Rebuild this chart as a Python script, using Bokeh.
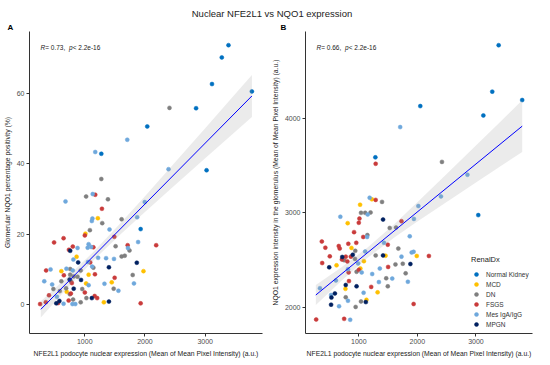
from bokeh.plotting import figure
from bokeh.models import ColumnDataSource, Range1d, FixedTicker, Label, Legend, LegendItem, Div
from bokeh.layouts import column, row
from bokeh.embed import file_html
from bokeh.resources import INLINE

# ---------------- data ----------------
groups = ["NK", "MCD", "DN", "FSGS", "IgA", "MPGN"]
group_labels = ["Normal Kidney", "MCD", "DN", "FSGS", "Mes IgA/IgG", "MPGN"]
group_colors = ["#0070C0", "#FFC000", "#7F7F7F", "#C93B3B", "#6FA8DC", "#002060"]

# Panel A: NFE2L1 (x) vs glomerular NQO1 % positivity (y)
a_x = [3387, 3276, 3113, 3776, 2407, 2849, 2038, 1706, 1174, 1275, 2391, 3023, 1275, 680, 1132,
       1174, 1022, 1385, 1285, 1996, 1127, 1117, 1217, 1612, 1290, 1870, 648, 490, 1085, 1411,
       1011, 1001, 1928, 2186, 1886, 1491, 1512, 1712, 1717, 1743, 1064, 1048, 1106, 1143, 880,
       801, 737, 758, 864, 1222, 1354, 1485, 1612, 1664, 811, 1053, 1090, 890, 1864, 1122,
       1401, 1143, 358, 432, 695, 611, 758, 801, 932, 1975, 653, 758, 816, 880, 1064,
       1169, 1496, 1796, 327, 748, 938, 769, 785, 611, 458, 1022, 1064, 1327, 1448, 1817,
       479, 816, 958, 690, 700, 585, 769, 1001, 1559, 1480, 406, 537, 753, 806, 1027,
       1117, 1164, 1206, 732, 579, 527, 558, 648, 795, 843, 932, 1317, 1401, 1928, 258, 353]
a_y = [73.9, 70.4, 62.8, 60.7, 56.0, 55.9, 50.7, 46.9, 43.4, 42.9, 38.5, 38.2, 35.7, 29.3, 31.4,
       31.2, 30.7, 29.9, 27.2, 29.1, 24.4, 23.7, 24.5, 24.2, 23.1, 24.8, 18.8, 17.6, 21.1, 21.3,
       20.1, 19.6, 21.4, 16.8, 17.7, 19.2, 16.5, 16.8, 16.0, 15.3, 17.1, 16.1, 16.3, 16.2, 16.0,
       16.4, 15.5, 15.2, 13.5, 13.2, 13.1, 12.9, 13.6, 13.8, 12.7, 12.0, 11.9, 11.9, 11.8, 10.7,
       10.5, 10.4, 9.6, 9.9, 10.1, 9.4, 10.0, 9.6, 9.6, 9.4, 8.2, 8.4, 7.9, 7.8, 8.4,
       8.5, 7.5, 8.3, 6.5, 7.0, 6.9, 6.5, 6.0, 6.5, 5.6, 5.9, 5.4, 5.8, 6.2, 5.9,
       4.3, 4.4, 4.3, 4.5, 3.5, 3.7, 3.0, 3.3, 3.8, 4.4, 2.5, 2.1, 2.8, 1.3, 1.7,
       1.7, 2.3, 1.7, 1.0, 0.9, 0.2, 0.3, 0.1, 0.0, 0.0, 0.5, 0.5, 0.7, 0.2, 0.0, 0.55]
a_grp = ["NK", "NK", "NK", "NK", "DN", "NK", "NK", "IgA", "IgA", "NK", "IgA", "NK", "DN", "IgA", "IgA",
         "FSGS", "DN", "DN", "FSGS", "IgA", "IgA", "IgA", "MCD", "DN", "DN", "IgA", "FSGS", "FSGS", "DN", "IgA",
         "MCD", "FSGS", "NK", "FSGS", "IgA", "FSGS", "DN", "FSGS", "IgA", "DN", "IgA", "IgA", "IgA", "FSGS", "IgA",
         "FSGS", "FSGS", "MPGN", "MCD", "IgA", "IgA", "IgA", "DN", "DN", "IgA", "IgA", "FSGS", "MPGN", "MPGN", "IgA",
         "MPGN", "DN", "FSGS", "IgA", "IgA", "MCD", "DN", "IgA", "DN", "MCD", "FSGS", "DN", "DN", "DN", "MCD",
         "FSGS", "FSGS", "DN", "IgA", "MPGN", "MPGN", "DN", "FSGS", "DN", "IgA", "MCD", "IgA", "IgA", "MCD", "IgA",
         "DN", "MPGN", "DN", "DN", "MCD", "DN", "FSGS", "FSGS", "IgA", "DN", "FSGS", "IgA", "DN", "DN", "DN",
         "MPGN", "FSGS", "FSGS", "FSGS", "MPGN", "MPGN", "FSGS", "IgA", "IgA", "IgA", "DN", "MCD", "MPGN", "FSGS", "FSGS", "FSGS"]

# Panel A regression line and confidence band
a_line_x = [270, 3776]
a_line_y = [-1.5, 59.4]
a_band_x = [270, 700, 1150, 1600, 2000, 2500, 3000, 3400, 3776]
a_band_lo = [-3.8, 4.35, 12.6, 20.0, 26.3, 34.0, 41.6, 47.7, 53.4]
a_band_hi = [0.8, 7.6, 15.0, 23.2, 30.8, 40.5, 50.2, 58.0, 65.4]

# Panel B: NFE2L1 (x) vs NQO1 intensity (y)
b_x = [3388, 3279, 3790, 2050, 3127, 1707, 1283, 1288, 2420, 2855, 1185, 1223, 1288, 1397, 1022,
       2403, 2017, 1038, 1109, 1152, 1201, 685, 1414, 1011, 1000, 810, 1729, 1941, 3040, 1528,
       1636, 919, 1147, 1076, 1142, 1870, 369, 658, 429, 674, 821, 957, 875, 940, 1109,
       1430, 1495, 1675, 1936, 1903, 505, 717, 777, 897, 864, 1288, 1414, 1457, 1729, 1990,
       2197, 375, 495, 620, 712, 750, 805, 935, 989, 1087, 1027, 1000, 815, 826, 962,
       1049, 1229, 1359, 1501, 1626, 1751, 1881, 1800, 1571, 1468, 1343, 1838, 832, 962, 777,
       772, 1212, 1495, 337, 609, 1321, 1082, 592, 527, 533, 777, 815, 1131, 1120, 1038,
       527, 663, 946, 1936, 272, 750, 853]
b_y = [4771, 4280, 4191, 4127, 4028, 3905, 3585, 3517, 3537, 3401, 3158, 3141, 3135, 3114, 3084,
       3172, 3070, 2998, 2998, 2981, 3002, 2957, 2927, 2937, 2893, 2889, 2910, 2934, 2974, 2838,
       2842, 2794, 2763, 2743, 2743, 2750, 2695, 2647, 2630, 2620, 2671, 2681, 2627, 2596, 2589,
       2681, 2661, 2620, 2586, 2579, 2538, 2531, 2535, 2555, 2535, 2548, 2548, 2545, 2535, 2542,
       2542, 2467, 2422, 2443, 2504, 2497, 2484, 2511, 2463, 2487, 2409, 2395, 2402, 2368, 2375,
       2368, 2351, 2409, 2426, 2453, 2460, 2457, 2358, 2303, 2306, 2266, 2269, 2276, 2221, 2235,
       2194, 2215, 2221, 2201, 2283, 2157, 2153, 2146, 2129, 2102, 2105, 2068, 2078, 2054, 2061,
       2027, 2010, 2003, 2034, 1870, 1877, 1867]
b_grp = ["NK", "NK", "NK", "NK", "NK", "IgA", "NK", "FSGS", "DN", "IgA", "IgA", "MCD", "FSGS", "DN", "MCD",
         "IgA", "IgA", "DN", "DN", "IgA", "DN", "IgA", "MPGN", "FSGS", "FSGS", "MCD", "FSGS", "IgA", "NK", "DN",
         "DN", "FSGS", "DN", "FSGS", "IgA", "IgA", "FSGS", "FSGS", "FSGS", "FSGS", "FSGS", "FSGS", "MCD", "DN", "IgA",
         "IgA", "FSGS", "DN", "IgA", "IgA", "FSGS", "MPGN", "FSGS", "MPGN", "FSGS", "DN", "MPGN", "MCD", "IgA", "MCD",
         "FSGS", "FSGS", "MPGN", "MCD", "FSGS", "DN", "FSGS", "DN", "IgA", "MCD", "MCD", "FSGS", "IgA", "FSGS", "DN",
         "IgA", "IgA", "IgA", "FSGS", "DN", "DN", "MPGN", "DN", "IgA", "DN", "IgA", "IgA", "FSGS", "MPGN", "MPGN",
         "MCD", "FSGS", "DN", "IgA", "IgA", "MCD", "IgA", "MPGN", "IgA", "MPGN", "DN", "IgA", "MCD", "MPGN", "DN",
         "MPGN", "IgA", "DN", "FSGS", "FSGS", "FSGS", "IgA"]

b_line_x = [266, 3790]
b_line_y = [2129, 3915]
b_band_x = [266, 700, 1150, 1600, 2000, 2500, 3000, 3400, 3790]
b_band_lo = [2024, 2278, 2522, 2734, 2906, 3114, 3320, 3483, 3642]
b_band_hi = [2234, 2420, 2632, 2876, 3110, 3408, 3710, 3951, 4188]

x_ticks = [1000, 2000, 3000]
a_y_ticks = [0, 20, 40, 60]
b_y_ticks = [2000, 3000, 4000]

title_text = "Nuclear NFE2L1 vs NQO1 expression"
x_label = "NFE2L1 podocyte nuclear expression (Mean of Mean Pixel Intensity) (a.u.)"
a_y_label = "Glomerular NQO1 percentage positivity (%)"
b_y_label = "NQO1 expression intensity in the glomerulus (Mean of Mean Pixel Intensity) (a.u.)"
a_stats = ("0.73", "2.2e-16")
b_stats = ("0.66", "2.2e-16")

FONT = "Liberation Sans"
FIG_H = 339


def make_panel(width, xr, yr, yticks, ylabel, mbl, mbr, letter, letter_offset):
    p = figure(width=width, height=FIG_H, x_range=Range1d(*xr), y_range=Range1d(*yr),
               output_backend="svg", toolbar_location=None,
               min_border_left=mbl, min_border_right=mbr, min_border_top=0, min_border_bottom=22)
    p.outline_line_color = None
    p.grid.visible = False
    p.title.text = letter
    p.title.align = "left"
    p.title.offset = letter_offset
    p.title.text_font = FONT
    p.title.text_font_size = "8px"
    p.title.text_font_style = "bold"
    p.title.text_color = "#000000"
    p.title.standoff = 0
    p.xaxis.ticker = FixedTicker(ticks=x_ticks)
    p.yaxis.ticker = FixedTicker(ticks=yticks)
    p.xaxis.axis_label = x_label
    p.yaxis.axis_label = ylabel
    for ax in (p.xaxis, p.yaxis):
        ax.axis_line_color = "#333333"
        ax.major_tick_line_color = "#333333"
        ax.major_tick_out = 3
        ax.major_tick_in = 0
        ax.minor_tick_line_color = None
        ax.major_label_text_font = FONT
        ax.major_label_text_font_size = "7px"
        ax.major_label_text_color = "#4D4D4D"
        ax.major_label_standoff = 2
        ax.axis_label_text_font = FONT
        ax.axis_label_text_font_size = "6.8px"
        ax.axis_label_text_font_style = "normal"
        ax.axis_label_text_color = "#222222"
        ax.axis_label_standoff = 3
    return p


def add_points(p, xs, ys, gs):
    rends = {}
    for g, c in zip(groups, group_colors):
        idx = [i for i, gg in enumerate(gs) if gg == g]
        src = ColumnDataSource(dict(x=[xs[i] for i in idx], y=[ys[i] for i in idx]))
        rends[g] = p.scatter("x", "y", source=src, size=4, fill_color=c, line_color=c, line_width=0.5)
    return rends


def add_fit(p, lx, ly, bx, blo, bhi):
    p.varea(x=bx, y1=blo, y2=bhi, fill_color="#999999", fill_alpha=0.2)
    p.line(x=lx, y=ly, line_color="#0000FF", line_width=1)


def add_stats(p, stats, y_from_bottom):
    r, pv = stats
    pieces = [("R", "italic", 11), (" = %s, " % r, "normal", 15.7), ("p", "italic", 39.6),
              (" < %s" % pv, "normal", 43.2)]
    for txt, style, x in pieces:
        p.add_layout(Label(x=x, y=y_from_bottom, x_units="screen", y_units="screen", text=txt,
                           text_font=FONT, text_font_size="6.5px", text_font_style=style,
                           text_color="#222222", text_baseline="middle"))


pA = make_panel(268, (82, 3952), (-8.4, 77.8), a_y_ticks, a_y_label, 23, 6, "A", -22)
add_points(pA, a_x, a_y, a_grp)
add_fit(pA, a_line_x, a_line_y, a_band_x, a_band_lo, a_band_hi)

pB = make_panel(266, (90, 3966), (1722, 4916), b_y_ticks, b_y_label, 32, 2, "B", -25)
rB = add_points(pB, b_x, b_y, b_grp)
add_fit(pB, b_line_x, b_line_y, b_band_x, b_band_lo, b_band_hi)

legend = Legend(items=[LegendItem(label=lab, renderers=[rB[g]]) for g, lab in zip(groups, group_labels)],
                location=(166, 4), title="RenalDx")
legend.title_text_font = FONT
legend.title_text_font_size = "7.5px"
legend.title_text_font_style = "normal"
legend.title_text_color = "#222222"
legend.label_text_font = FONT
legend.label_text_font_size = "6.5px"
legend.label_text_color = "#333333"
legend.label_height = 10
legend.glyph_height = 10
legend.glyph_width = 10
legend.spacing = 0
legend.padding = 2
legend.margin = 0
legend.border_line_color = None
legend.background_fill_alpha = 0
pB.add_layout(legend)

# stats labels placed relative to the frame (screen units measured from frame bottom)
frame_h_est = 306
add_stats(pA, a_stats, frame_h_est - 20)
add_stats(pB, b_stats, frame_h_est - 20)

title = Div(text='<div style="width:534px;text-align:center;font-family:\'Liberation Sans\',Arial;'
                 'font-size:9.5px;color:#222;line-height:10px;">%s</div>' % title_text,
            width=534, height=10)

layout = column(title, row(pA, pB))
open("out.html", "w").write(file_html(layout, INLINE))
